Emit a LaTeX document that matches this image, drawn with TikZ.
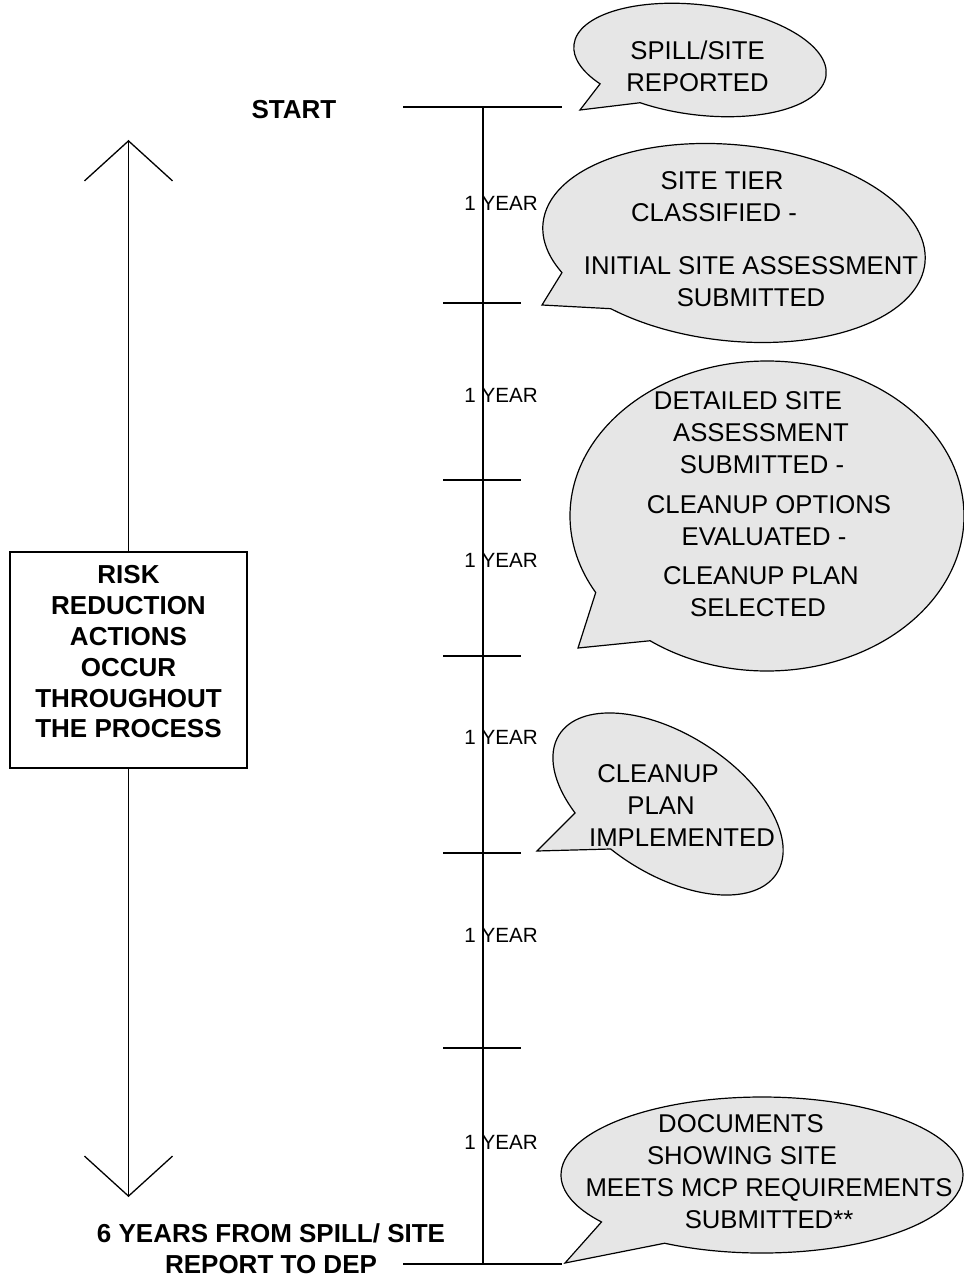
\documentclass[tikz,border=0pt]{standalone}
\usepackage{fontspec}
\setmainfont{Liberation Sans}
\usetikzlibrary{arrows.meta,shapes.callouts,positioning}
\definecolor{bubgray}{HTML}{E6E6E6}
\newcommand{\bubfont}{\fontsize{12.85}{16}\selectfont}
\newcommand{\yrfont}{\fontsize{10.3}{12}\selectfont}
\newcommand{\trailgap}[1]{\hspace*{#1}\mbox{}}
\tikzset{
  tlLine/.style={line width=0.65pt},
  bubble/.style={ellipse callout, draw, fill=bubgray, line width=0.6pt, inner sep=0pt, callout pointer arc=24},
  bubText/.style={font=\bubfont, align=center, inner sep=0pt},
  yearLab/.style={font=\yrfont, anchor=west, inner sep=0pt},
  riskBox/.style={draw, line width=0.65pt, minimum width=118.5pt, minimum height=108pt, inner sep=0pt},
  riskText/.style={font=\fontsize{13}{15.4}\selectfont\bfseries, align=center, inner sep=0pt},
  endLab/.style={font=\fontsize{13}{15.5}\selectfont\bfseries, align=center, inner sep=0pt},
  openHead/.style={line width=0.65pt, -{Straight Barb[length=20pt, width=44pt]}}
}

\begin{document}
\begin{tikzpicture}[x=0.5pt, y=-0.5pt]
  \useasboundingbox (0,0) rectangle (963,1278);
  % timeline and ticks
  \coordinate (tlTop) at (483,107);
  \coordinate (tlBot) at (483,1264);
  \draw[tlLine] (tlTop) -- (tlBot);
  \draw[tlLine] (403,107) -- (562,107);
  \draw[tlLine] (403,1264) -- (562,1264);
  \foreach \ty in {303,480,656,853,1048}
    \draw[tlLine] (443,\ty) -- (521,\ty);
  \foreach \ly [count=\i] in {203,395,560,737,935,1142}
    \node[yearLab] (yr\i) at (464,\ly) {1 YEAR};

  \node[endLab] (start) at (294,110) {START};
  \node[endLab] (finish) at (271,1249) {6 YEARS FROM SPILL/ SITE\\REPORT TO DEP};

  % risk box with the two-way arrow
  \node[riskBox] (riskBox) at (128.5,660) {};
  \node[riskText] (riskTxt) at (128.5,652) {RISK\\REDUCTION\\ACTIONS\\OCCUR\\THROUGHOUT\\THE PROCESS};
  \coordinate (upTip) at (128.5,140);
  \coordinate (downTip) at (128.5,1197);
  \draw[openHead] (riskBox.north) -- (upTip);
  \draw[openHead] (riskBox.south) -- (downTip);

  % speech bubbles
  \node[bubble, minimum width=127pt, minimum height=55pt, rotate=-7,
        callout absolute pointer={(580,110)}] (spillBub) at (700,60) {};
  \node[bubText] (spillTxt) at (697.5,66) {SPILL/SITE\\REPORTED};

  \node[bubble, minimum width=192pt, minimum height=98pt, rotate=-6,
        callout absolute pointer={(542,305)}] (tierBub) at (734,243) {};
  \node[bubText] (tierTxt) at (751,239.3) {SITE TIER\trailgap{29pt}\\CLASSIFIED -\trailgap{37pt}\\[10.5pt]INITIAL SITE ASSESSMENT\\SUBMITTED};

  \node[bubble, minimum width=197pt, minimum height=155pt,
        callout absolute pointer={(578,648)}] (planBub) at (767,516) {};
  \node[bubText] (planTxt) at (769,504.3) {DETAILED SITE\trailgap{21pt}\\ASSESSMENT\trailgap{8pt}\\SUBMITTED -\trailgap{7pt}\\[3.75pt]CLEANUP OPTIONS\\EVALUATED -\trailgap{5pt}\\[3.75pt]CLEANUP PLAN\trailgap{8pt}\\SELECTED\trailgap{11pt}};

  \node[bubble, minimum width=129pt, minimum height=70pt, rotate=-32.5,
        callout absolute pointer={(537,851)}] (implBub) at (668,804) {};
  \node[bubText] (implTxt) at (682,805.8) {CLEANUP\trailgap{24pt}\\PLAN\trailgap{21pt}\\IMPLEMENTED};

  \node[bubble, minimum width=201pt, minimum height=78pt,
        callout absolute pointer={(565,1263)}] (docBub) at (762,1175) {};
  \node[bubText] (docTxt) at (769,1171.8) {DOCUMENTS\trailgap{28pt}\\SHOWING SITE\trailgap{27pt}\\MEETS MCP REQUIREMENTS\\SUBMITTED**};
\end{tikzpicture}
\end{document}
